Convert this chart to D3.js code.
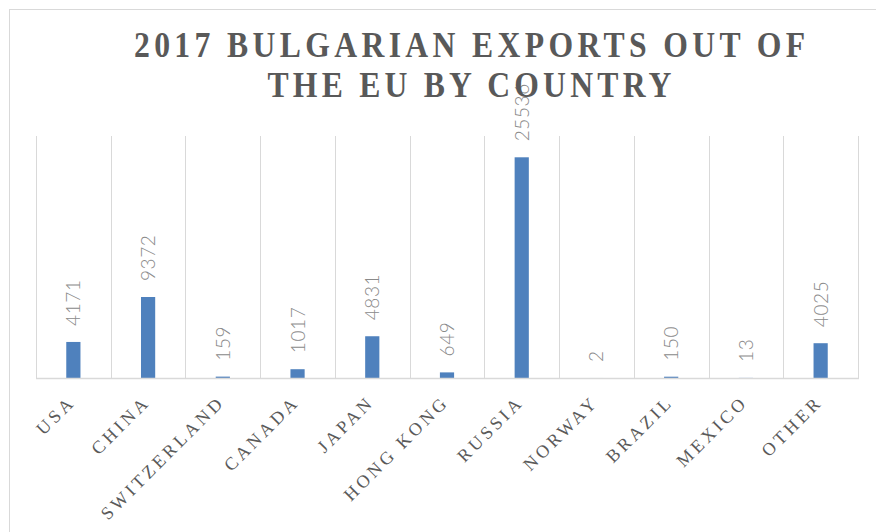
<!DOCTYPE html>
<html>
<head>
<meta charset="utf-8">
<script src="https://cdn.jsdelivr.net/npm/d3@7"></script>
<style>
  html, body { margin: 0; padding: 0; background: #fff; }
  svg { display: block; }
</style>
</head>
<body>
<div id="chart"></div>
<script>
// datos del grafico
const paises = ["USA", "CHINA", "SWITZERLAND", "CANADA", "JAPAN", "HONG KONG", "RUSSIA", "NORWAY", "BRAZIL", "MEXICO", "OTHER"];
const exportaciones = [4171, 9372, 159, 1017, 4831, 649, 25536, 2, 150, 13, 4025];
const titulo = ["2017 BULGARIAN EXPORTS OUT OF", "THE EU BY COUNTRY"];
const ejeMax = 28000;

const W = 876, H = 532;
const plot = { left: 36, right: 858, top: 136, bottom: 378 };

const svg = d3.select("#chart").append("svg")
  .attr("width", W)
  .attr("height", H);

// marco del area del grafico (se corta a la derecha y abajo)
svg.append("rect")
  .attr("x", 9.5).attr("y", 9.5)
  .attr("width", 1000).attr("height", 700)
  .attr("fill", "#fff")
  .attr("stroke", "#d9d9d9")
  .attr("stroke-width", 1);

const x = d3.scaleBand()
  .domain(paises)
  .range([plot.left, plot.right]);

const y = d3.scaleLinear()
  .domain([0, ejeMax])
  .range([plot.bottom, plot.top]);

const anchoBarra = x.bandwidth() * 0.19;

// lineas verticales entre categorias
const bordes = paises.map(d => x(d)).concat([plot.right]);
svg.append("g")
  .selectAll("line")
  .data(bordes)
  .enter()
  .append("line")
    .attr("x1", d => Math.round(d) + 0.5)
    .attr("x2", d => Math.round(d) + 0.5)
    .attr("y1", plot.top)
    .attr("y2", plot.bottom)
    .attr("stroke", "#d9d9d9")
    .attr("stroke-width", 1);

// barras
svg.append("g")
  .selectAll("rect")
  .data(paises)
  .enter()
  .append("rect")
    .attr("x", d => x(d) + x.bandwidth() / 2 - anchoBarra / 2)
    .attr("y", (d, i) => y(exportaciones[i]))
    .attr("width", anchoBarra)
    .attr("height", (d, i) => y(0) - y(exportaciones[i]))
    .attr("fill", "#4f81bd");

// eje horizontal
svg.append("line")
  .attr("x1", plot.left).attr("x2", plot.right + 1)
  .attr("y1", plot.bottom + 0.5).attr("y2", plot.bottom + 0.5)
  .attr("stroke", "#d9d9d9")
  .attr("stroke-width", 1.5);

// etiquetas de valores (rotadas)
svg.append("g")
  .selectAll("text")
  .data(paises)
  .enter()
  .append("text")
    .attr("transform", (d, i) => {
      const cx = x(d) + x.bandwidth() / 2 + 7;
      const cy = y(exportaciones[i]) - 16;
      return "translate(" + cx + "," + cy + ") rotate(-90)";
    })
    .attr("text-anchor", "start")
    .style("font-family", "Lato, 'Liberation Sans', sans-serif")
    .style("font-weight", "300")
    .style("font-size", "19px")
    .style("letter-spacing", "0.6px")
    .style("fill", "#8a8a8a")
    .text((d, i) => exportaciones[i]);

// etiquetas de categorias
svg.append("g")
  .selectAll("text")
  .data(paises)
  .enter()
  .append("text")
    .attr("transform", d => {
      const cx = x(d) + x.bandwidth() / 2 + 3;
      return "translate(" + cx + "," + 403 + ") rotate(-45)";
    })
    .attr("text-anchor", "end")
    .style("font-family", "'Liberation Serif', 'Times New Roman', serif")
    .style("font-size", "18px")
    .style("letter-spacing", "3.5px")
    .style("fill", "#5a5a5a")
    .text(d => d);

// titulo (algo comprimido en horizontal, como en el original)
const escalaX = 0.88;
const centroTitulo = 469.5;
const anchos = [671, 404];
svg.append("g")
  .attr("transform", "scale(" + escalaX + ",1)")
  .selectAll("text")
  .data(titulo)
  .enter()
  .append("text")
    .attr("x", centroTitulo / escalaX)
    .attr("y", (d, i) => 57 + i * 40)
    .attr("text-anchor", "middle")
    .attr("textLength", (d, i) => anchos[i] / escalaX)
    .attr("lengthAdjust", "spacing")
    .style("font-family", "'Liberation Serif', 'Times New Roman', serif")
    .style("font-weight", "bold")
    .style("font-size", "36px")
    .style("fill", "#595959")
    .text(d => d);
</script>
</body>
</html>
